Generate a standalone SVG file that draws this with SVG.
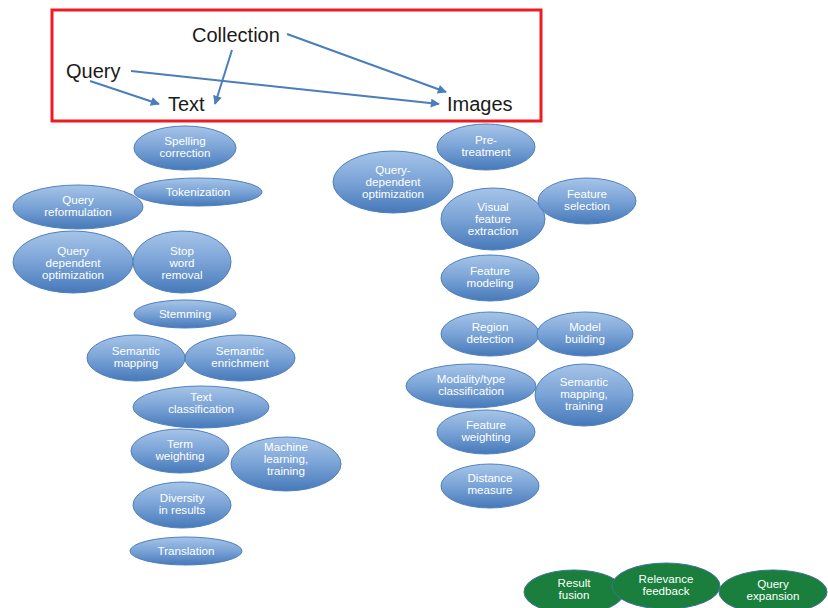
<svg xmlns="http://www.w3.org/2000/svg" width="828" height="608" viewBox="0 0 828 608">
<style>
.lbl{font-family:"Liberation Sans",Arial,sans-serif;font-size:20px;fill:#1a1a1a}
.n ellipse{fill:url(#bg);stroke:#4f81bd;stroke-width:1}
.g ellipse{fill:#1a7f3c;stroke:#41719c;stroke-width:1}
.n text,.g text{font-family:"Liberation Sans",Arial,sans-serif;font-size:11.6px;fill:#ffffff;text-anchor:middle}
.c line{stroke:#4a7ebb;stroke-width:2;marker-end:url(#ah)}
</style>
<defs>
<linearGradient id="bg" x1="0" y1="0" x2="0" y2="1">
<stop offset="0" stop-color="#a6c4e8"/>
<stop offset="0.5" stop-color="#7aa3d6"/>
<stop offset="1" stop-color="#4679ba"/>
</linearGradient>
<marker id="ah" viewBox="0 0 10 10" refX="9" refY="5" markerWidth="5" markerHeight="4.5" orient="auto" markerUnits="strokeWidth">
<path d="M0,0 L10,5 L0,10 z" fill="#4a7ebb"/>
</marker>
</defs>
<rect x="52" y="10" width="489" height="111" fill="none" stroke="#ed1c24" stroke-width="3"/>
<g id="top-labels">
<text class="lbl" x="192" y="42">Collection</text>
<text class="lbl" x="66" y="78">Query</text>
<text class="lbl" x="168" y="111">Text</text>
<text class="lbl" x="447" y="111">Images</text>
</g>
<g class="c" id="connectors">
<line x1="287" y1="34" x2="446" y2="92"/>
<line x1="232" y1="50" x2="215" y2="104"/>
<line x1="131" y1="71" x2="439" y2="104"/>
<line x1="90" y1="81" x2="159" y2="104"/>
</g>
<g class="n" id="spelling"><ellipse cx="185" cy="148" rx="51" ry="22"/><text x="185" y="145">Spelling</text><text x="185" y="157">correction</text></g>
<g class="n" id="tokenization"><ellipse cx="198" cy="192" rx="64" ry="14"/><text x="198" y="196">Tokenization</text></g>
<g class="n" id="query-reform"><ellipse cx="78" cy="207" rx="65" ry="22"/><text x="78" y="204">Query</text><text x="78" y="216">reformulation</text></g>
<g class="n" id="query-dep-opt"><ellipse cx="73" cy="262" rx="60" ry="31"/><text x="73" y="254.5">Query</text><text x="73" y="266.5">dependent</text><text x="73" y="278.5">optimization</text></g>
<g class="n" id="stop-word"><ellipse cx="182" cy="262" rx="49" ry="31"/><text x="182" y="254.5">Stop</text><text x="182" y="266.5">word</text><text x="182" y="278.5">removal</text></g>
<g class="n" id="stemming"><ellipse cx="185" cy="314" rx="51" ry="14"/><text x="185" y="318">Stemming</text></g>
<g class="n" id="sem-mapping"><ellipse cx="136" cy="358" rx="49" ry="23"/><text x="136" y="355">Semantic</text><text x="136" y="367">mapping</text></g>
<g class="n" id="sem-enrich"><ellipse cx="240" cy="358" rx="55" ry="23"/><text x="240" y="355">Semantic</text><text x="240" y="367">enrichment</text></g>
<g class="n" id="text-class"><ellipse cx="201" cy="407" rx="68" ry="21"/><text x="201" y="401">Text</text><text x="201" y="413">classification</text></g>
<g class="n" id="term-weight"><ellipse cx="180" cy="451" rx="49" ry="22"/><text x="180" y="448">Term</text><text x="180" y="460">weighting</text></g>
<g class="n" id="machine-learning"><ellipse cx="286" cy="464" rx="55" ry="27"/><text x="286" y="450.5">Machine</text><text x="286" y="462.5">learning,</text><text x="286" y="474.5">training</text></g>
<g class="n" id="diversity"><ellipse cx="182" cy="505" rx="49" ry="23"/><text x="182" y="501.5">Diversity</text><text x="182" y="513.5">in results</text></g>
<g class="n" id="translation"><ellipse cx="186" cy="551" rx="56" ry="14"/><text x="186" y="555">Translation</text></g>
<g class="n" id="pre-treatment"><ellipse cx="486" cy="147" rx="49" ry="23"/><text x="486" y="143.5">Pre-</text><text x="486" y="155.5">treatment</text></g>
<g class="n" id="query-dep-opt2"><ellipse cx="393" cy="182" rx="60" ry="31"/><text x="393" y="173.5">Query-</text><text x="393" y="185.5">dependent</text><text x="393" y="197.5">optimization</text></g>
<g class="n" id="visual-feature"><ellipse cx="493" cy="219" rx="52" ry="31"/><text x="493" y="210.5">Visual</text><text x="493" y="222.5">feature</text><text x="493" y="234.5">extraction</text></g>
<g class="n" id="feature-sel"><ellipse cx="587" cy="201" rx="49" ry="23"/><text x="587" y="197.5">Feature</text><text x="587" y="209.5">selection</text></g>
<g class="n" id="feature-model"><ellipse cx="490" cy="278" rx="49" ry="23"/><text x="490" y="274.5">Feature</text><text x="490" y="286.5">modeling</text></g>
<g class="n" id="region-det"><ellipse cx="490" cy="334" rx="49" ry="22"/><text x="490" y="330.5">Region</text><text x="490" y="342.5">detection</text></g>
<g class="n" id="model-build"><ellipse cx="585" cy="334" rx="48" ry="22"/><text x="585" y="330.5">Model</text><text x="585" y="342.5">building</text></g>
<g class="n" id="modality"><ellipse cx="471" cy="386" rx="65" ry="22"/><text x="471" y="382.5">Modality/type</text><text x="471" y="394.5">classification</text></g>
<g class="n" id="sem-map-train"><ellipse cx="584" cy="395" rx="49" ry="31"/><text x="584" y="385.5">Semantic</text><text x="584" y="397.5">mapping,</text><text x="584" y="409.5">training</text></g>
<g class="n" id="feature-weight"><ellipse cx="486" cy="432" rx="49" ry="22"/><text x="486" y="428.5">Feature</text><text x="486" y="440.5">weighting</text></g>
<g class="n" id="distance"><ellipse cx="490" cy="486" rx="49" ry="22"/><text x="490" y="481.5">Distance</text><text x="490" y="493.5">measure</text></g>
<g class="g" id="result-fusion"><ellipse cx="574" cy="592" rx="50" ry="22"/><text x="574" y="586.5">Result</text><text x="574" y="598.5">fusion</text></g>
<g class="g" id="relevance"><ellipse cx="666" cy="586" rx="54" ry="23"/><text x="666" y="582.5">Relevance</text><text x="666" y="594.5">feedback</text></g>
<g class="g" id="query-exp"><ellipse cx="773" cy="592" rx="54" ry="22"/><text x="773" y="587.5">Query</text><text x="773" y="599.5">expansion</text></g>
</svg>
